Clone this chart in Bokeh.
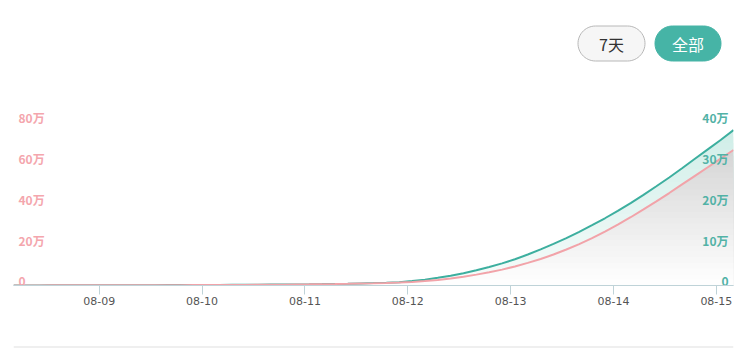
import numpy as np
import pandas as pd
from bokeh.plotting import figure
from bokeh.layouts import column
from bokeh.models import Range1d, FixedTicker, DatetimeTickFormatter
from bokeh.core.properties import value
from bokeh.embed import file_html
from bokeh.resources import INLINE

# ---------------- data ----------------
times = pd.date_range("2023-08-08 04:00", periods=57, freq="3h")
# teal series (right axis), in units of 万 (10,000)
green_wan = [0.02, 0.025, 0.03, 0.035, 0.04, 0.045, 0.05, 0.06, 0.065, 0.07,
             0.08, 0.09, 0.10, 0.11, 0.12, 0.135, 0.15, 0.165, 0.18, 0.20,
             0.22, 0.245, 0.27, 0.30, 0.34, 0.39, 0.44, 0.51, 0.59, 0.69,
             0.82, 1.08, 1.43, 1.88, 2.4, 3.0, 3.7, 4.5, 5.4, 6.4,
             7.55, 8.8, 10.15, 11.55, 13.1, 14.7, 16.4, 18.2, 20.1, 22.1,
             24.2, 26.35, 28.6, 30.9, 33.2, 35.5, 37.9]
# pink series (left axis), in units of 万
pink_wan = [0.05, 0.055, 0.06, 0.065, 0.07, 0.08, 0.09, 0.10, 0.11, 0.12,
            0.135, 0.15, 0.165, 0.18, 0.20, 0.22, 0.24, 0.27, 0.30, 0.33,
            0.37, 0.42, 0.48, 0.55, 0.63, 0.72, 0.84, 0.97, 1.1, 1.25,
            1.42, 1.72, 2.15, 2.7, 3.45, 4.3, 5.3, 6.45, 7.75, 9.3,
            11.05, 12.95, 15.1, 17.55, 20.2, 23.1, 26.3, 29.7, 33.3, 37.1,
            41.0, 45.1, 49.3, 53.5, 57.7, 61.9, 66.1]
left_ticks = [0, 200000, 400000, 600000, 800000]
left_labels = ["0", "20万", "40万", "60万", "80万"]
right_ticks = [0, 100000, 200000, 300000, 400000]
right_labels = ["0", "10万", "20万", "30万", "40万"]
day_ticks = ["2023-08-09", "2023-08-10", "2023-08-11", "2023-08-12",
             "2023-08-13", "2023-08-14", "2023-08-15"]
buttons = ["7天", "全部"]

green = np.array(green_wan) * 10000
pink = np.array(pink_wan) * 10000
xs = times.to_pydatetime()

FONT = value("Noto Sans CJK SC")
NOBORDER = dict(min_border=0, min_border_left=0, min_border_right=0,
                min_border_top=0, min_border_bottom=0)

# ---------------- header with buttons ----------------
# (column layout aligns frames with the chart frame, which spans page x 13..733)
hdr = figure(width=744, height=75, x_range=Range1d(13, 733), y_range=Range1d(75, 0),
             output_backend="svg", toolbar_location=None, title=None,
             x_axis_location=None, y_axis_location=None, **NOBORDER)
hdr.grid.visible = False
hdr.outline_line_color = None


def pill(cx, cy, w, h, n=30):
    r = h / 2.0
    a1 = np.linspace(-np.pi / 2, np.pi / 2, n)
    a2 = np.linspace(np.pi / 2, 3 * np.pi / 2, n)
    px = np.concatenate([cx + (w / 2 - r) + r * np.cos(a1), cx - (w / 2 - r) + r * np.cos(a2)])
    py = np.concatenate([cy + r * np.sin(a1), cy + r * np.sin(a2)])
    return px, py


bx, by = pill(611, 43, 67, 35)
hdr.patch(bx, by, fill_color="#f6f6f6", line_color="#b8b8b8", line_width=1)
bx, by = pill(687.5, 43, 66, 35)
hdr.patch(bx, by, fill_color="#46b4a6", line_color="#46b4a6", line_width=1)
hdr.text(x=[611], y=[43], text=[buttons[0]], text_align="center", text_baseline="middle",
         text_font=FONT, text_font_size="16px", text_color="#333333")
hdr.text(x=[687.5], y=[43], text=[buttons[1]], text_align="center", text_baseline="middle",
         text_font=FONT, text_font_size="16px", text_color="#ffffff")

# ---------------- main chart ----------------
p = figure(width=744, height=256, x_axis_type="datetime",
           x_range=Range1d(xs[0], xs[-1]), y_range=Range1d(0, 902400),
           output_backend="svg", toolbar_location=None, y_axis_location=None,
           min_border=0, min_border_left=13, min_border_right=11,
           min_border_top=25, min_border_bottom=46)
p.extra_y_ranges = {"right": Range1d(0, 451200)}
p.grid.visible = False
p.outline_line_color = None
p.background_fill_color = "white"


def mix(c1, c2, t):
    a = np.array([int(c1[i:i + 2], 16) for i in (1, 3, 5)])
    b = np.array([int(c2[i:i + 2], 16) for i in (1, 3, 5)])
    c = (a + (b - a) * t).round().astype(int)
    return "#%02x%02x%02x" % tuple(c)


# teal gradient area under green (right axis)
N = 24
gmax = green.max()
for k in range(N, 0, -1):
    hi = gmax * k / N
    t = 1 - (k - 0.5) / N
    p.varea(x=xs, y1=np.zeros(len(xs)), y2=np.minimum(green, hi),
            fill_color=mix("#d0eee8", "#f7fcfb", t), y_range_name="right")

# gray gradient area under pink (left axis)
pmax = pink.max()
for k in range(N, 0, -1):
    hi = pmax * k / N
    t = 1 - (k - 0.5) / N
    p.varea(x=xs, y1=np.zeros(len(xs)), y2=np.minimum(pink, hi),
            fill_color=mix("#d5d5d5", "#ffffff", t))

p.line(xs, green, line_color="#3daf9f", line_width=2, y_range_name="right")
p.line(xs, pink, line_color="#f2a3a9", line_width=2)

# in-plot axis labels
p.text(x=[xs[0]] * len(left_ticks), y=left_ticks, text=left_labels, x_offset=5, y_offset=-4,
       text_baseline="middle", text_align="left", text_font=FONT,
       text_font_size="12px", text_font_style="bold", text_color="#f4a6ad")
p.text(x=[xs[-1]] * len(right_ticks), y=right_ticks, text=right_labels, x_offset=-5, y_offset=-4,
       text_baseline="middle", text_align="right", text_font=FONT,
       text_font_size="12px", text_font_style="bold", text_color="#52b2a6",
       y_range_name="right")

ax = p.xaxis[0]
ax.ticker = FixedTicker(ticks=[pd.Timestamp(d).value / 1e6 for d in day_ticks])
fmt = "%m-%d"
ax.formatter = DatetimeTickFormatter(microseconds=fmt, milliseconds=fmt, seconds=fmt,
                                     minsec=fmt, minutes=fmt, hourmin=fmt, hours=fmt,
                                     days=fmt, months=fmt, years=fmt)
ax.axis_line_color = "#bfd3d8"
ax.major_tick_line_color = "#bfd3d8"
ax.major_tick_in = 0
ax.major_tick_out = 9
ax.minor_tick_line_color = None
ax.major_label_text_font = "DejaVu Sans"
ax.major_label_text_font_size = "11px"
ax.major_label_text_color = "#555555"
ax.major_label_standoff = 2

# ---------------- footer line ----------------
ft = figure(width=744, height=17, x_range=Range1d(13, 733), y_range=Range1d(17, 0),
            output_backend="svg", toolbar_location=None, title=None,
            x_axis_location=None, y_axis_location=None, **NOBORDER)
ft.grid.visible = False
ft.outline_line_color = None
ft.quad(left=[13], right=[733], top=[15], bottom=[16], fill_color="#e0e0e0", line_color=None)

layout = column(hdr, p, ft, spacing=0)
open("out.html", "w").write(file_html(layout, INLINE))
